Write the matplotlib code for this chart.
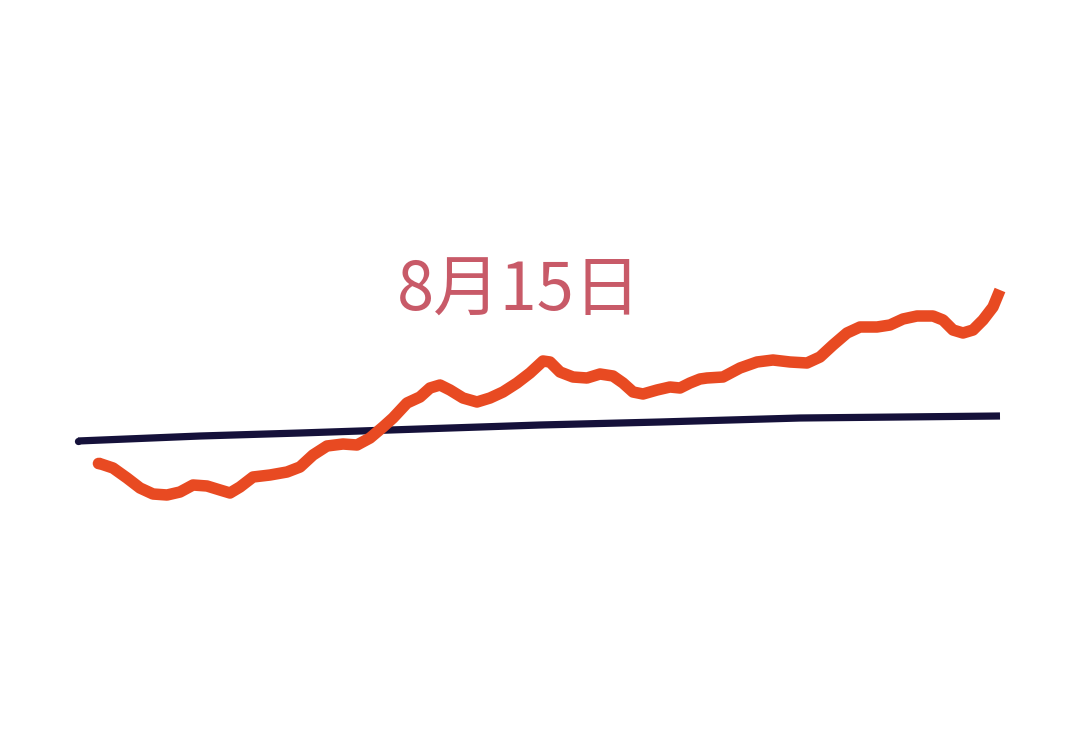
import matplotlib
matplotlib.use("Agg")
import matplotlib.pyplot as plt

# Orange series (x position, level); y measured downward as in the drawing
orange_x = [98, 113, 127, 140, 153, 167, 180, 193, 207, 220, 230, 240, 253, 270, 287,
            300, 313, 327, 343, 357, 370, 383, 393, 407, 420, 430, 440, 450, 463, 477,
            490, 503, 517, 530, 543, 550, 560, 573, 587, 600, 613, 623, 633, 643, 657,
            670, 680, 690, 700, 707, 723, 740, 757, 773, 790, 807, 820, 833, 847, 860,
            877, 890, 903, 917, 933, 943, 953, 963, 973, 983, 993, 1000]
orange_y = [463, 468, 478, 488, 494, 495, 492, 485, 486, 490, 493, 487, 477, 475, 472,
            467, 455, 446, 444, 445, 438, 427, 418, 403, 397, 388, 385, 390, 398, 402,
            398, 392, 383, 373, 361, 362, 372, 377, 378, 374, 376, 383, 392, 394, 390,
            387, 388, 383, 379, 378, 377, 368, 362, 360, 362, 363, 357, 345, 333, 327,
            327, 325, 319, 316, 316, 320, 330, 333, 330, 320, 307, 290]

navy_x = [78, 200, 300, 420, 540, 660, 800, 900, 1000]
navy_y = [441, 436, 433, 429, 425, 422, 418, 417, 416]

label = "8月15日"

fig = plt.figure(figsize=(10.8, 7.4), dpi=100)
ax = fig.add_axes([0, 0, 1, 1])
ax.set_xlim(0, 1080)
ax.set_ylim(740, 0)
ax.axis("off")

ax.plot(navy_x, navy_y, color="#15113a", lw=5.2, solid_capstyle="butt",
        solid_joinstyle="round")
ax.plot([navy_x[0]], [navy_y[0]], "o", color="#15113a", ms=5.2, mew=0)
ax.plot(orange_x, orange_y, color="#e84a22", lw=8.3, solid_capstyle="butt",
        solid_joinstyle="round")
ax.plot([orange_x[0]], [orange_y[0]], "o", color="#e84a22", ms=8.3, mew=0)

ax.text(519, 292, label, color="#c85a68", fontsize=48,
        ha="center", va="center", family=["Noto Sans CJK SC", "DejaVu Sans"])

fig.savefig("out.png", dpi=100, facecolor="white")
